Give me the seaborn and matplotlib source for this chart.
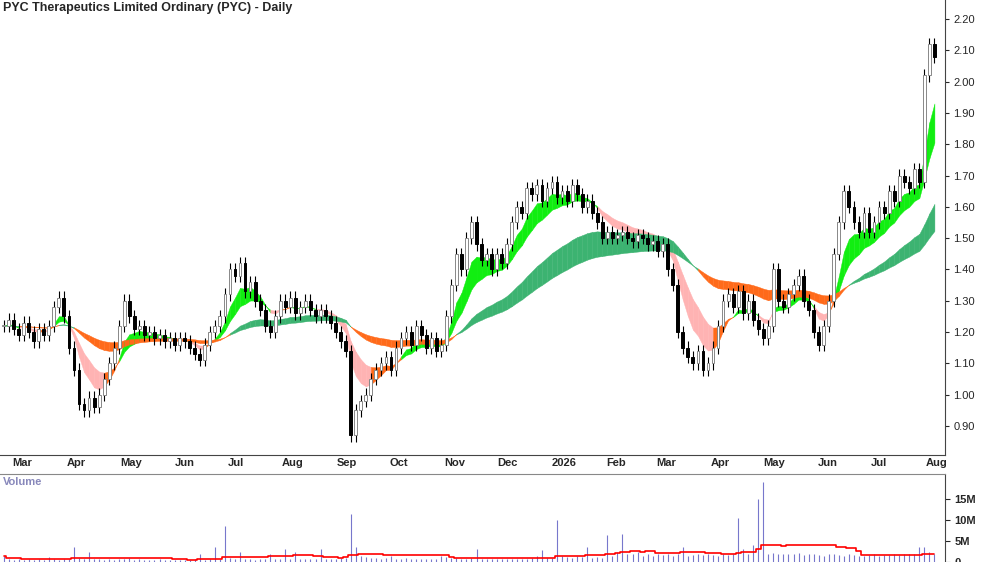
import numpy as np
import pandas as pd
import matplotlib
matplotlib.use("Agg")
import matplotlib.pyplot as plt
import matplotlib.dates as mdates
import seaborn as sns

title = "PYC Therapeutics Limited Ordinary (PYC) - Daily"
start_date = "2025-02-24"
end_date = "2026-08-06"
closes = [1.22, 1.24,
          1.21, 1.19, 1.23, 1.20, 1.17, 1.21, 1.19, 1.22, 1.28, 1.31, 1.25,
          1.15, 1.08, 0.97, 0.95, 0.99, 0.96, 1.00, 1.05, 1.10, 1.15,
          1.22, 1.30, 1.25, 1.21, 1.22, 1.19, 1.20, 1.18, 1.19, 1.17, 1.18,
          1.16, 1.18, 1.17, 1.15, 1.13, 1.11, 1.16, 1.20, 1.22, 1.25,
          1.32, 1.40, 1.38, 1.42, 1.33, 1.36, 1.30, 1.27, 1.22, 1.20, 1.25,
          1.30, 1.28, 1.31, 1.26, 1.28, 1.30, 1.27, 1.25, 1.27, 1.25,
          1.23, 1.20, 1.17, 1.14, 0.87, 0.95, 0.98, 1.00, 1.05, 1.08, 1.10,
          1.12, 1.08, 1.15, 1.18, 1.20, 1.16, 1.22, 1.19, 1.15, 1.18, 1.14,
          1.16, 1.25, 1.35, 1.45, 1.40, 1.50, 1.55, 1.48, 1.43, 1.45,
          1.40, 1.45, 1.42, 1.48, 1.55, 1.60, 1.58, 1.66, 1.64, 1.67, 1.62,
          1.66, 1.68, 1.63, 1.65, 1.62, 1.67, 1.64, 1.60, 1.62, 1.58, 1.55,
          1.50, 1.52, 1.50, 1.51, 1.52, 1.50, 1.49, 1.51, 1.50, 1.48,
          1.49, 1.46, 1.48, 1.40, 1.35, 1.20, 1.15, 1.12, 1.10, 1.14, 1.08,
          1.10, 1.15, 1.22, 1.30, 1.32, 1.28, 1.33, 1.26, 1.30, 1.24, 1.21,
          1.18, 1.22, 1.40, 1.30, 1.28, 1.32, 1.35, 1.38, 1.30, 1.27,
          1.20, 1.16, 1.22, 1.30, 1.45, 1.55, 1.65, 1.60, 1.55, 1.52, 1.58,
          1.52, 1.55, 1.60, 1.58, 1.65, 1.62, 1.70, 1.68, 1.66, 1.72, 1.68,
          2.02, 2.12, 2.08]
volumes_m = [1.5, 0.6,
             0.5, 0.8, 0.4, 0.6, 0.5, 0.7, 0.5, 1.2, 0.6, 0.5, 0.7,
             0.8, 3.5, 1.0, 0.8, 2.5, 0.7, 0.6, 0.5, 0.6, 0.5,
             0.6, 0.7, 1.0, 0.5, 0.6, 0.4, 0.5, 0.5, 0.6, 0.4, 0.5,
             0.4, 0.5, 0.4, 0.5, 0.6, 1.8, 0.5, 0.7, 3.5, 0.6,
             8.5, 1.0, 0.8, 2.5, 0.7, 0.6, 0.5, 0.6, 0.7, 1.8, 0.6,
             0.8, 3.0, 0.7, 2.5, 0.6, 0.7, 0.6, 0.8, 3.0, 0.7,
             0.8, 0.7, 0.9, 1.0, 11.5, 3.5, 1.5, 1.2, 1.0, 0.9, 0.8,
             0.9, 1.5, 0.8, 0.7, 0.9, 0.8, 0.7, 0.8, 0.7, 0.6, 0.7,
             1.5, 1.2, 1.0, 0.9, 0.8, 0.7, 0.9, 3.0, 0.8, 0.7,
             0.8, 0.6, 0.7, 0.6, 0.8, 0.7, 0.6, 0.7, 1.0, 1.5, 2.8,
             0.9, 1.0, 10.0, 1.5, 1.2, 1.0, 1.5, 1.2, 3.5, 1.0, 1.2,
             1.0, 6.5, 1.5, 2.5, 6.8, 2.0, 1.8, 2.5, 1.5, 2.0,
             1.5, 1.8, 1.6, 2.0, 1.5, 1.8, 3.5, 1.5, 1.6, 2.0, 1.7,
             1.8, 1.6, 1.5, 2.0, 1.7, 1.8, 10.5, 3.0, 2.0, 4.0, 15.0,
             19.0, 2.0, 2.2, 2.0, 1.8, 2.0, 1.8, 2.2, 1.6, 2.0,
             1.8, 1.6, 1.5, 1.8, 2.0, 1.6, 1.5, 1.8, 1.6, 1.4, 1.5,
             1.6, 1.8, 1.5, 1.7, 1.6, 1.8, 1.6, 1.9, 2.0, 1.8, 3.5,
             3.5, 2.5, 2.0]

sns.set_style("white")
plt.rcParams['font.family'] = ['Liberation Sans', 'DejaVu Sans']

n = len(closes)
dates = pd.date_range(start_date, end_date, periods=n)
df = pd.DataFrame({"date": dates, "close": closes, "vol": np.array(volumes_m) * 1e6})
df["open"] = df["close"].shift(1).fillna(df["close"])
x = mdates.date2num(df["date"])

fig = plt.figure(figsize=(10, 5.62), dpi=100)
ax = fig.add_axes([0.0, 1 - 455 / 562, 0.945, 455 / 562])
axv = fig.add_axes([0.0, 0.0, 0.945, 88 / 562])
axv.patch.set_alpha(0)

# Guppy-style ribbons
c = df["close"]
e_s1 = c.ewm(span=6, adjust=False).mean()
e_s2 = c.ewm(span=12, adjust=False).mean()
e_l1 = c.ewm(span=32, adjust=False).mean()
e_l2 = c.ewm(span=55, adjust=False).mean()
slope = e_s1.diff().fillna(0)
for i in range(n - 1):
    seg = slice(i, i + 2)
    if e_s1[i] >= e_s2[i]:
        col = "#11ee11"
    elif slope[i] < 0:
        col = "#ffb3b3"
    else:
        col = "#ff6a1a"
    ax.fill_between(x[seg], e_s1[seg], e_s2[seg], color=col, lw=0.3, edgecolor=col)
    colL = "#3cb371" if e_l1[i] >= e_l2[i] else "#ff6a1a"
    ax.fill_between(x[seg], e_l1[seg], e_l2[seg], color=colL, lw=0.3, edgecolor=colL)

# candles
hi = np.maximum(df["open"], df["close"]) + 0.02
lo = np.minimum(df["open"], df["close"]) - 0.02
ax.vlines(x, lo, hi, color="black", lw=0.8, zorder=3)
up = df["close"] >= df["open"]
bot = np.minimum(df["open"], df["close"])
hgt = np.abs(df["close"] - df["open"]).clip(lower=0.004)
ax.bar(x[up], hgt[up], bottom=bot[up], width=1.6, color="white", edgecolor="#888888", lw=0.7, zorder=4)
ax.bar(x[~up], hgt[~up], bottom=bot[~up], width=1.6, color="black", edgecolor="black", lw=0.7, zorder=4)

xmin, xmax = x[0] - 2, mdates.date2num(pd.Timestamp("2026-08-12"))
ax.set_xlim(xmin, xmax)
ax.set_ylim(0.807, 2.261)
ax.yaxis.tick_right()
yt = np.round(np.arange(0.9, 2.21, 0.1), 2)
ax.set_yticks(yt)
ax.set_yticklabels([f"{v:.2f}" for v in yt], fontsize=8)
ax.xaxis.set_major_locator(mdates.MonthLocator())
ticks = ax.get_xticks()
ax.set_xticks(ticks)
labs = [("2026" if mdates.num2date(t).month == 1 else mdates.num2date(t).strftime("%b")) for t in ticks]
ax.set_xticklabels(labs, fontsize=8, fontweight="bold", ha="left")
ax.tick_params(axis="x", direction="out", length=14, pad=-12, width=1.2)
ax.tick_params(axis="y", length=3, pad=3)
ax.text(0.003, 0.995, title, transform=ax.transAxes, fontsize=9, fontweight="bold", va="top")
for s in ["top", "left"]:
    ax.spines[s].set_visible(False)
ax.spines["bottom"].set_color("#444444")
ax.spines["right"].set_color("#444444")

# volume
axv.vlines(x, 0, df["vol"], color="#7777cc", lw=0.8)
vma = df["vol"].rolling(20, min_periods=1).mean()
sns.lineplot(x=x, y=vma, ax=axv, color="red", lw=1.2, drawstyle="steps-mid")
axv.set_xlim(xmin, xmax)
axv.set_ylim(0, 21e6)
axv.yaxis.tick_right()
axv.set_yticks([0, 5e6, 10e6, 15e6])
axv.set_yticklabels(["0", "5M", "10M", "15M"], fontsize=8, fontweight="bold")
axv.set_xticks([])
axv.set_ylabel("")
axv.text(0.003, 0.97, "Volume", transform=axv.transAxes, fontsize=8, fontweight="bold", color="#8888bb", va="top")
for s in ["left", "bottom"]:
    axv.spines[s].set_visible(False)
axv.spines["top"].set_color("#888888")
axv.spines["right"].set_color("#444444")

fig.savefig("out.png", dpi=100)
